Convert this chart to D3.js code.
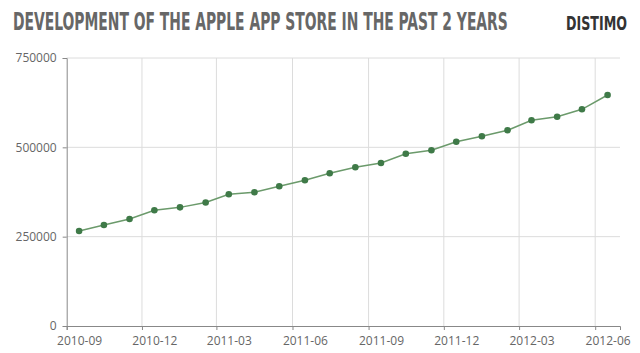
<!DOCTYPE html>
<html><head><meta charset="utf-8">
<script src="https://cdn.jsdelivr.net/npm/d3@7"></script>
<style>
html,body{margin:0;padding:0;background:#fff;}
svg{display:block;}
</style></head>
<body>
<script>
const months = ["2010-09","2010-10","2010-11","2010-12","2011-01","2011-02","2011-03","2011-04","2011-05","2011-06","2011-07","2011-08","2011-09","2011-10","2011-11","2011-12","2012-01","2012-02","2012-03","2012-04","2012-05","2012-06"];
const apps = [266000,282600,299400,323800,332000,345600,368600,374200,391000,407700,427300,444100,456200,482200,492000,515800,530900,547700,575600,585700,606400,646500];
const yTicks = [0,250000,500000,750000];
const xTickLabels = ["2010-09","2010-12","2011-03","2011-06","2011-09","2011-12","2012-03","2012-06"];
const title = "DEVELOPMENT OF THE APPLE APP STORE IN THE PAST 2 YEARS";
const brand = "DISTIMO";

(function(){
const W = 640, H = 353;
const mL = 66.7, mR = 620, mT = 58, mB = 326;
const parse = d3.timeParse("%Y-%m");
const data = months.map((m,i)=>({date: d3.timeDay.offset(parse(m),15), value: apps[i]}));

const svg = d3.select("body").append("svg").attr("width",W).attr("height",H);

const x = d3.scaleTime().domain([parse("2010-09"), parse("2012-07")]).range([mL,mR]);
const y = d3.scaleLinear().domain([0,750000]).range([mB,mT]);

function fitText(txt, x0, base, width, size, fill, weight){
  const t = svg.append("text").attr("x",0).attr("y",0).text(txt)
    .attr("font-family","'Liberation Sans Narrow','DejaVu Sans Condensed',sans-serif")
    .attr("font-weight",weight).attr("font-size",size).attr("fill",fill);
  const len = t.node().getComputedTextLength();
  t.attr("transform",`translate(${x0},${base}) scale(${width/len},1)`);
}
fitText(title, 13, 30, 495, 25, "#676767", "bold");
fitText(brand, 566, 30, 61, 19, "#333", "bold");

const xTickVals = xTickLabels.map(parse);

// grid
svg.append("g").selectAll("line").data(yTicks.filter(d=>d>0)).join("line")
  .attr("x1",mL).attr("x2",mR).attr("y1",d=>y(d)).attr("y2",d=>y(d))
  .attr("stroke","#dcdcdc").attr("stroke-width",1);
svg.append("g").selectAll("line").data(xTickVals.slice(1)).join("line")
  .attr("x1",d=>x(d)).attr("x2",d=>x(d)).attr("y1",mT).attr("y2",mB)
  .attr("stroke","#dcdcdc").attr("stroke-width",1);

const font = "'Open Sans',sans-serif";
// y axis
const ya = svg.append("g").attr("transform",`translate(${mL},0)`)
  .call(d3.axisLeft(y).tickValues(yTicks).tickSize(4).tickPadding(6).tickFormat(d3.format("d")));
ya.select(".domain").attr("stroke","#888");
ya.selectAll(".tick line").attr("stroke","#888");
ya.selectAll("text").attr("font-family",font).attr("font-size",12).attr("fill","#666");

// x axis
const xa = svg.append("g").attr("transform",`translate(0,${mB})`)
  .call(d3.axisBottom(x).tickValues(xTickVals).tickSize(4).tickPadding(6).tickFormat(d3.timeFormat("%Y-%m")));
xa.select(".domain").attr("stroke","#888");
xa.selectAll(".tick line").attr("stroke","#888");
xa.selectAll("text").attr("font-family",font).attr("font-size",12).attr("fill","#666")
  .attr("x",d=>x(d3.timeDay.offset(d,15))-x(d));

// line
const line = d3.line().x(d=>x(d.date)).y(d=>y(d.value));
svg.append("path").datum(data).attr("d",line).attr("fill","none")
  .attr("stroke","#6b9a6b").attr("stroke-width",1.5);
svg.append("g").selectAll("circle").data(data).join("circle")
  .attr("cx",d=>x(d.date)).attr("cy",d=>y(d.value)).attr("r",3.3)
  .attr("fill","#3f7a48");
})();
</script>
</body></html>
